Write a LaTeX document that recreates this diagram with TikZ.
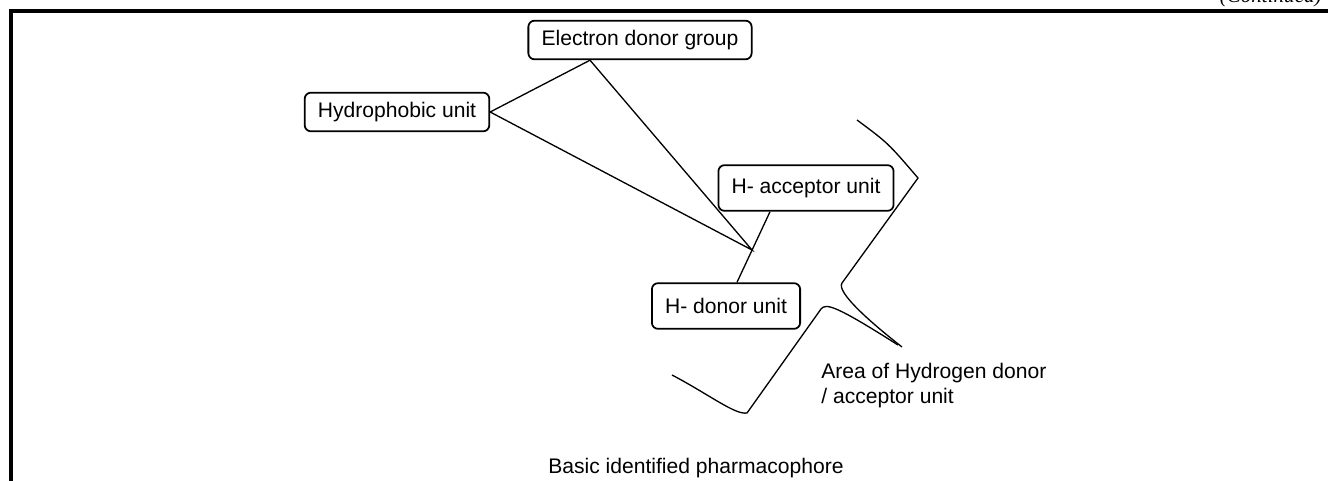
\documentclass[tikz,border=0pt]{standalone}
\usepackage{fontspec}
\setmainfont{Liberation Sans}
\newfontfamily\contfont{Liberation Serif}
\begin{document}
\begin{tikzpicture}[x=0.02cm, y=-0.02cm, font=\fontsize{12}{14}\selectfont,
  unit/.style={draw, line width=1pt, rounded corners=3.5pt, inner xsep=7.5pt, minimum height=22pt},
  link/.style={line width=0.75pt}]
\useasboundingbox (0,0) rectangle (1328,480);
\draw[line width=2.3pt] (11,484)--(11,11)--(1332,11);
\node[anchor=base east, inner sep=0pt, font=\contfont\itshape\fontsize{12}{14}\selectfont] (cont) at (1322,3) {(Continued)};

\node[unit] (elec) at (640,40) {Electron donor group};
\node[unit] (hydro) at (397,112) {Hydrophobic unit};
\node[unit, minimum height=26pt] (acc) at (806,188) {H- acceptor unit};
\node[unit, minimum height=26pt] (don) at (726,306) {H- donor unit};
\coordinate (hub) at (752,250);

\draw[link] ([xshift=-1cm]elec.south) -- (hydro.east) -- (hub) -- cycle;
\draw[link] ([xshift=-0.72cm]acc.south) -- ([xshift=0.22cm]don.north);

% area brackets
\draw[link] (857,120) .. controls (888,143) .. (918,178) -- (842,283) .. controls (836,292) and (870,322) .. (902,347);
\draw[link] (672,375) .. controls (710,395) and (735,415) .. (747,413) -- (821,309) .. controls (826,303) and (835,305) .. (898,345);

\node[anchor=north west, align=left, inner sep=0pt] (area) at (821,363) {Area of Hydrogen donor\\/ acceptor unit};
\node[anchor=base, inner sep=0pt] (title) at (696,473) {Basic identified pharmacophore};
\end{tikzpicture}
\end{document}
